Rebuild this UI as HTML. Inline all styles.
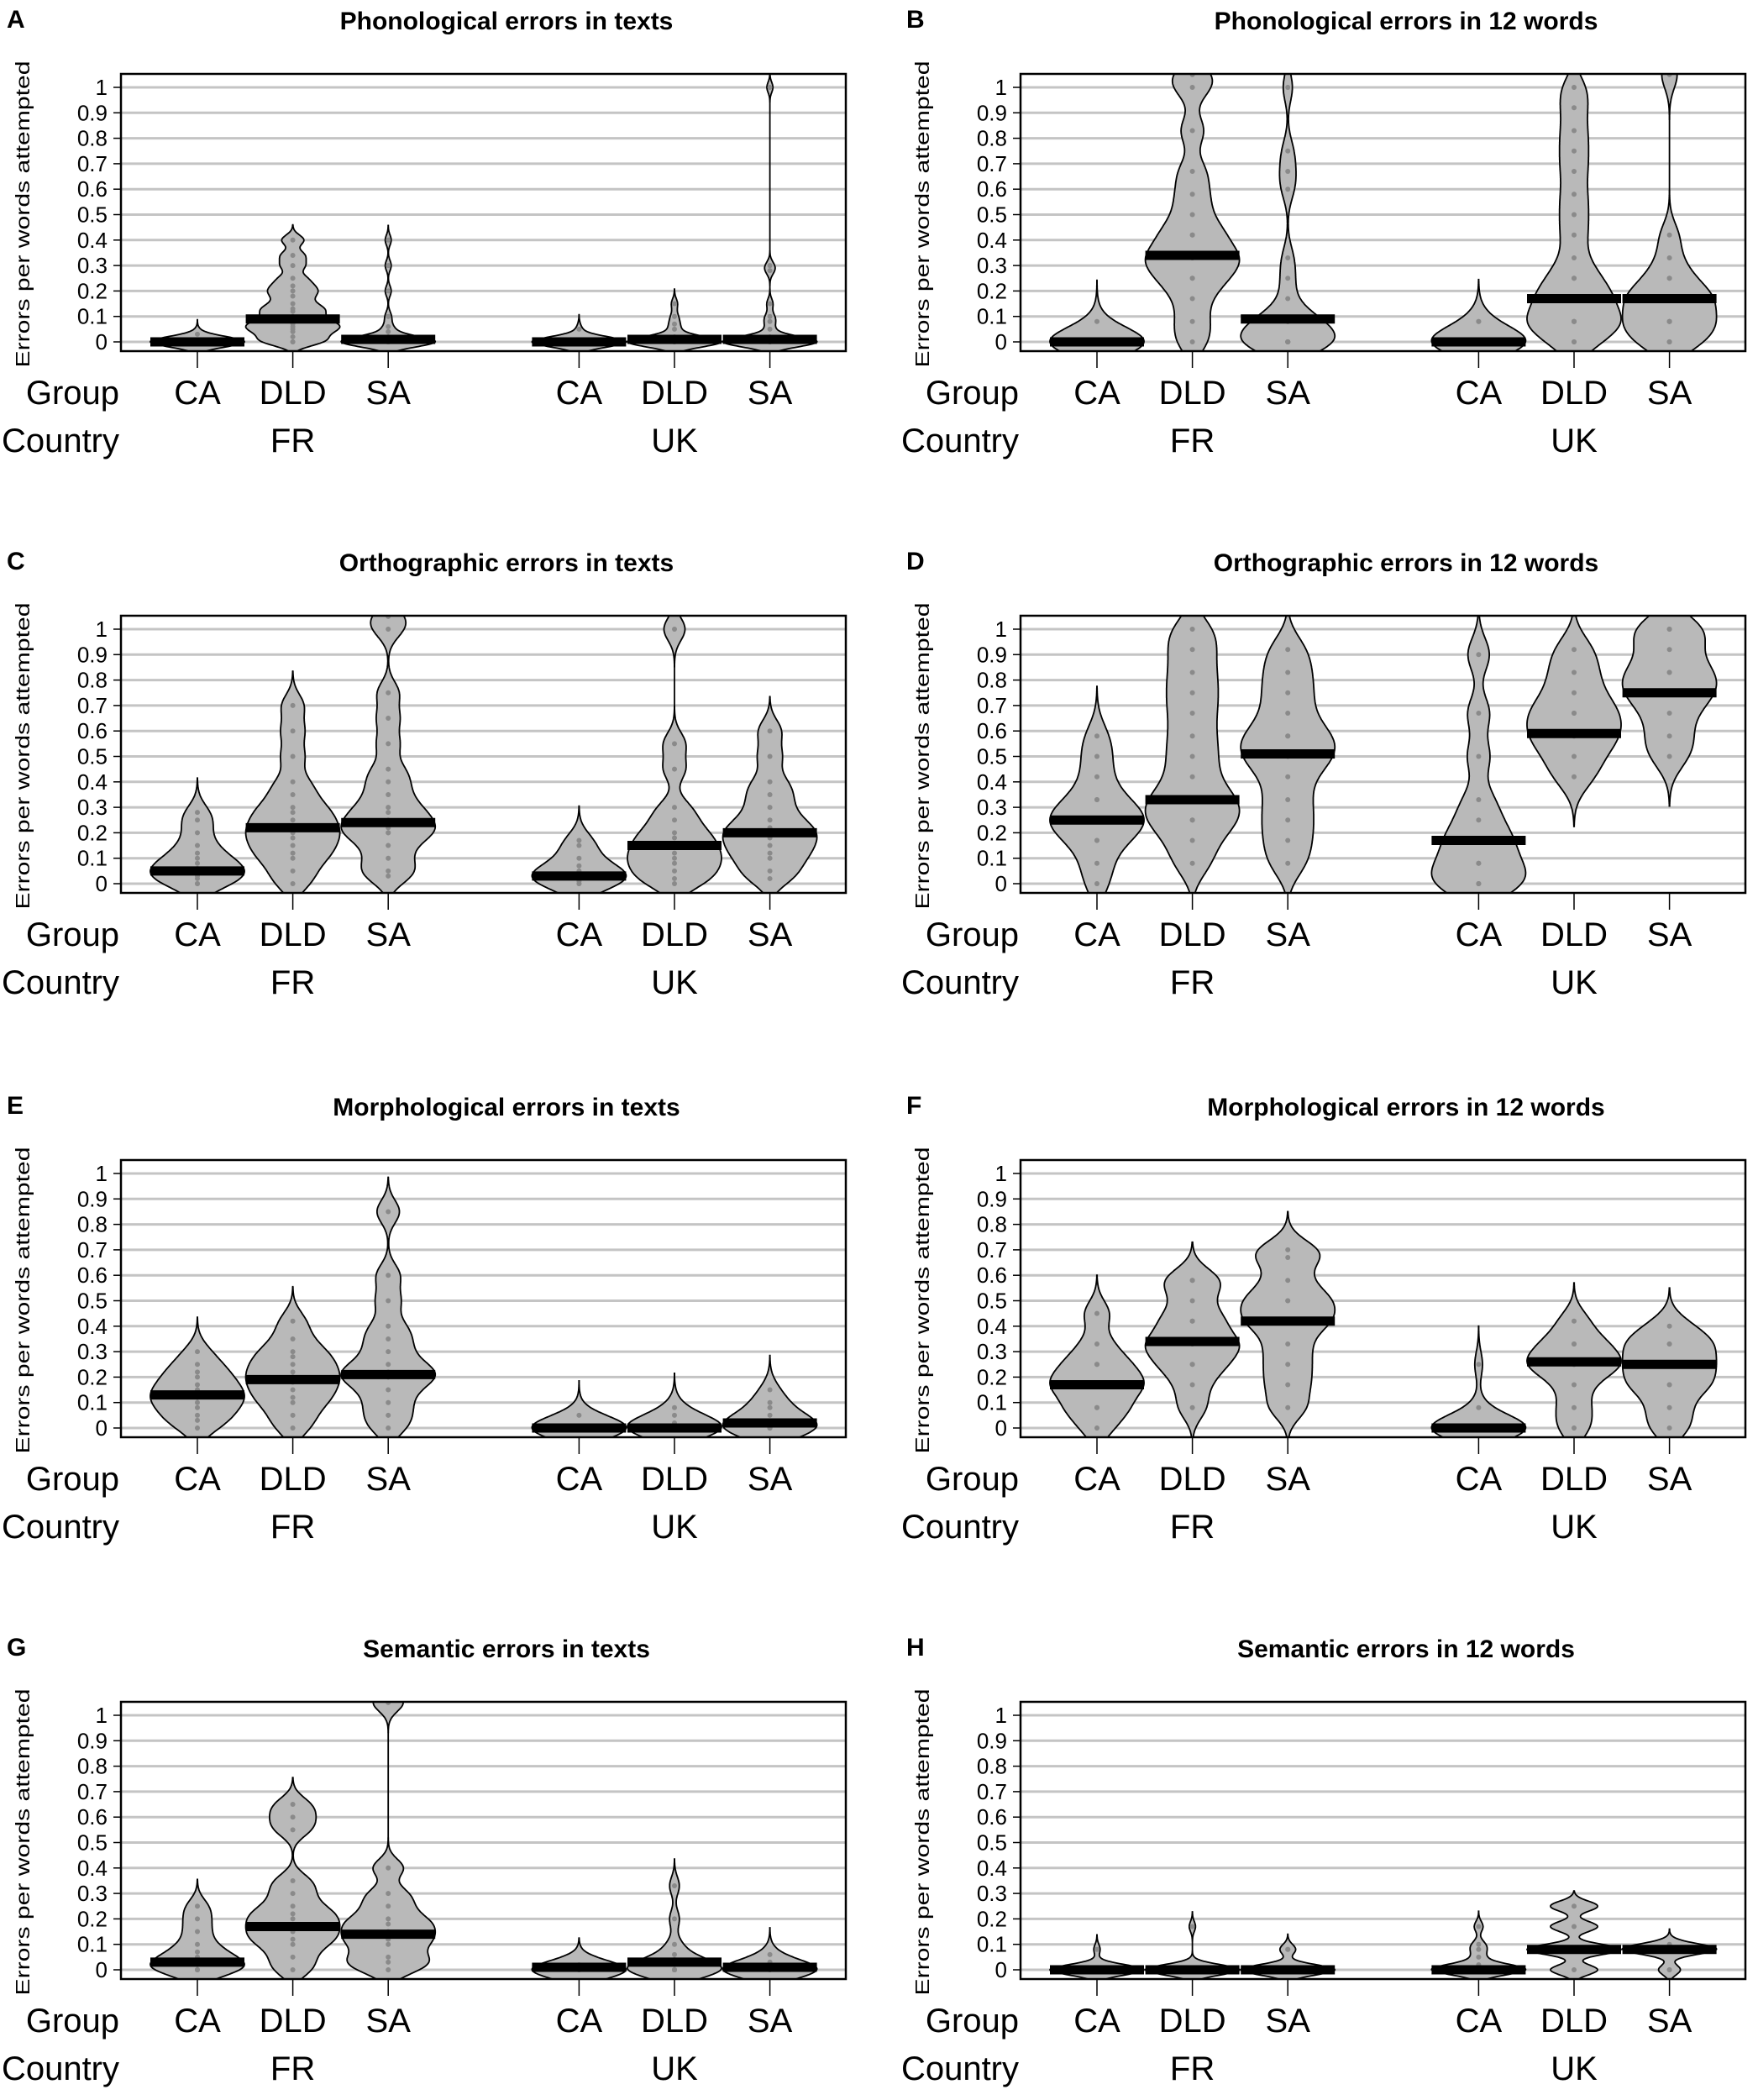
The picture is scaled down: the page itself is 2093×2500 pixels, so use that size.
<!DOCTYPE html>
<html><head><meta charset="utf-8"><style>
html,body{margin:0;padding:0;background:#fff;}
svg{display:block;}
text{font-family:"Liberation Sans",Arial,sans-serif;}
</style></head><body>
<svg id="fig" width="2093" height="2500" viewBox="0 0 2093 2500" xmlns="http://www.w3.org/2000/svg">
<rect x="0" y="0" width="2093" height="2500" fill="#fff"/>
</svg>
<script>
const groupLabels = ["CA","DLD","SA","CA","DLD","SA"];
const groupPos = [1,2,3,5,6,7];
const countryLabels = ["FR","UK"];
const countryPos = [2,6];
const yTicks = [0,0.1,0.2,0.3,0.4,0.5,0.6,0.7,0.8,0.9,1];
const yTickLabels = ["0","0.1","0.2","0.3","0.4","0.5","0.6","0.7","0.8","0.9","1"];
const letters = ["A","B","C","D","E","F","G","H"];
const titles = ["Phonological errors in texts","Phonological errors in 12 words","Orthographic errors in texts","Orthographic errors in 12 words","Morphological errors in texts","Morphological errors in 12 words","Semantic errors in texts","Semantic errors in 12 words"];
const bandwidths = [0.02,0.055,0.045,0.065,0.045,0.05,0.035,0.02];

const dataA = [
 [0,0,0,0,0,0,0,0,0,0,0,0,0,0,0,0,0,0,0,0,0.03],
 [0,0,0.02,0.04,0.05,0.06,0.07,0.08,0.1,0.12,0.13,0.15,0.18,0.2,0.22,0.25,0.3,0.34,0.4],
 [0,0,0,0,0,0,0,0,0,0,0,0,0,0,0,0.02,0.04,0.06,0.1,0.2,0.3,0.4],
 [0,0,0,0,0,0,0,0,0,0,0,0,0,0,0,0,0,0,0,0,0.05],
 [0,0,0,0,0,0,0,0,0,0,0,0,0,0,0,0.02,0.05,0.07,0.1,0.15],
 [0,0,0,0,0,0,0,0,0,0,0,0,0,0,0,0.02,0.05,0.08,0.1,0.15,0.28,0.3,1.0]];
const meansA = [0,0.09,0.01,0,0.01,0.01];
const dataB = [
 [0,0,0,0,0,0,0,0,0,0,0,0,0,0,0,0.08],
 [0,0.08,0.17,0.25,0.25,0.33,0.33,0.33,0.42,0.42,0.5,0.58,0.67,0.83,1.0,1.05],
 [0,0,0,0,0,0,0,0,0.08,0.08,0.08,0.08,0.08,0.17,0.25,0.33,0.6,0.67,0.75,1.0],
 [0,0,0,0,0,0,0,0,0,0,0,0,0.08,0.08],
 [0,0,0.08,0.08,0.08,0.08,0.17,0.17,0.17,0.25,0.25,0.33,0.42,0.5,0.58,0.67,0.75,0.83,0.92,1.0],
 [0,0,0,0.08,0.08,0.08,0.08,0.17,0.17,0.17,0.17,0.25,0.25,0.33,0.42,1.05]];
const meansB = [0,0.34,0.09,0,0.17,0.17];
const dataC = [
 [0,0,0.02,0.03,0.05,0.05,0.06,0.08,0.1,0.12,0.15,0.2,0.25,0.28],
 [0,0.05,0.1,0.12,0.15,0.18,0.2,0.22,0.25,0.28,0.3,0.35,0.4,0.5,0.6,0.7],
 [0.03,0.05,0.1,0.15,0.2,0.2,0.22,0.25,0.28,0.3,0.35,0.4,0.45,0.55,0.65,0.75,1.0,1.05],
 [0,0,0.01,0.02,0.03,0.04,0.05,0.07,0.1,0.15,0.17],
 [0,0.02,0.05,0.08,0.1,0.12,0.15,0.18,0.2,0.25,0.3,0.45,0.55,1.0],
 [0.02,0.05,0.1,0.12,0.15,0.18,0.2,0.22,0.25,0.3,0.35,0.4,0.5,0.6]];
const meansC = [0.05,0.22,0.24,0.03,0.15,0.2];
const dataD = [
 [0,0.08,0.17,0.17,0.25,0.25,0.25,0.25,0.33,0.33,0.42,0.5,0.58],
 [0.08,0.17,0.25,0.25,0.33,0.33,0.42,0.5,0.58,0.67,0.75,0.83,0.92,1.0],
 [0.08,0.17,0.25,0.33,0.42,0.5,0.5,0.58,0.58,0.67,0.75,0.83,0.92],
 [0,0,0,0.08,0.08,0.17,0.17,0.25,0.33,0.5,0.67,0.9],
 [0.42,0.5,0.58,0.58,0.67,0.67,0.75,0.83,0.92],
 [0.5,0.58,0.67,0.75,0.75,0.83,0.83,0.92,1.0,1.0]];
const meansD = [0.25,0.33,0.51,0.17,0.59,0.75];
const dataE = [
 [0,0.03,0.05,0.08,0.1,0.12,0.13,0.15,0.17,0.2,0.22,0.25,0.3],
 [0,0.05,0.1,0.12,0.15,0.18,0.2,0.22,0.25,0.28,0.3,0.35,0.42],
 [0,0.05,0.1,0.15,0.2,0.2,0.22,0.25,0.3,0.35,0.4,0.5,0.6,0.85],
 [0,0,0,0,0,0,0,0,0,0,0,0,0,0,0,0.05],
 [0,0,0,0,0,0,0,0,0,0,0.02,0.05,0.08],
 [0,0,0,0,0,0,0.02,0.05,0.08,0.1,0.15]];
const meansE = [0.13,0.19,0.21,0,0,0.02];
const dataF = [
 [0,0.08,0.08,0.17,0.17,0.17,0.25,0.25,0.33,0.45],
 [0.08,0.17,0.25,0.25,0.33,0.33,0.33,0.42,0.42,0.5,0.58,0.58],
 [0.08,0.17,0.25,0.33,0.42,0.42,0.5,0.5,0.58,0.67,0.7],
 [0,0,0,0,0,0,0,0,0,0,0,0,0.08,0.25],
 [0,0.08,0.17,0.25,0.25,0.25,0.33,0.33,0.42],
 [0,0.08,0.17,0.17,0.25,0.25,0.33,0.33,0.4]];
const meansF = [0.17,0.34,0.42,0,0.26,0.25];
const dataG = [
 [0,0,0,0.02,0.03,0.05,0.07,0.1,0.15,0.2,0.25],
 [0,0.05,0.1,0.12,0.15,0.17,0.2,0.22,0.25,0.3,0.35,0.55,0.6,0.65],
 [0,0.03,0.05,0.1,0.12,0.15,0.18,0.2,0.25,0.3,0.4,1.05],
 [0,0,0,0,0,0,0,0,0,0,0,0,0,0,0,0.02],
 [0,0,0,0,0,0,0,0,0.02,0.04,0.06,0.1,0.2,0.33],
 [0,0,0,0,0,0,0,0,0,0,0.03,0.06]];
const meansG = [0.03,0.17,0.14,0.01,0.03,0.01];
const dataH = [
 [0,0,0,0,0,0,0,0,0,0,0,0,0,0,0,0.08],
 [0,0,0,0,0,0,0,0,0,0,0,0,0,0,0,0.17],
 [0,0,0,0,0,0,0,0,0,0,0,0,0.08,0.08],
 [0,0,0,0,0,0,0,0,0,0,0.02,0.05,0.08,0.1,0.17],
 [0,0.08,0.08,0.17,0.25],
 [0,0,0.08,0.08,0.08,0.08,0.08,0.08,0.08,0.08,0.1]];
const meansH = [0,0,0,0,0.08,0.08];

const allData = [dataA,dataB,dataC,dataD,dataE,dataF,dataG,dataH];
const allMeans = [meansA,meansB,meansC,meansD,meansE,meansF,meansG,meansH];

const NS = "http://www.w3.org/2000/svg";
const svg = document.getElementById('fig');
function mk(tag, attrs, parent){ const e=document.createElementNS(NS,tag); for(const k in attrs) e.setAttribute(k,attrs[k]); (parent||svg).appendChild(e); return e; }

const colOff = [0,1071];
const rowOff = [0,645,1293,1938];
const HALF = 56;

for(let p=0;p<8;p++){
  const ox = colOff[p%2], oy = rowOff[Math.floor(p/2)];
  const xS = v => ox + 121.4 + 113.6*v;
  const yS = v => oy + 407 - v*303;
  const boxL = ox+144, boxR = ox+1007, boxT = oy+88, boxB = oy+418;
  const g = mk('g',{});
  
  

  const lt = mk('text',{x:ox+8,y:oy+33,'font-size':30,'font-weight':'bold'},g);
  lt.textContent = letters[p];
  
  

  const tl = mk('text',{x:ox+603,y:oy+35,'font-size':30,'font-weight':'bold','text-anchor':'middle'},g);
  tl.textContent = titles[p];
  
  

  const clipId = 'clip'+p;
  const cp = mk('clipPath',{id:clipId},g);
  mk('rect',{x:boxL,y:boxT,width:boxR-boxL,height:boxB-boxT},cp);

  for(let i=0;i<yTicks.length;i++){
    const gl = mk('line',{x1:boxL,x2:boxR,y1:yS(yTicks[i]),y2:yS(yTicks[i]),stroke:'#c4c4c4','stroke-width':3},g);
    
    
    const tk = mk('line',{x1:boxL-9,x2:boxL,y1:yS(yTicks[i]),y2:yS(yTicks[i]),stroke:'#000','stroke-width':1.5},g);
    
    
    const tt = mk('text',{x:ox+128,y:yS(yTicks[i])+9,'font-size':26,'text-anchor':'end'},g);
    tt.textContent = yTickLabels[i];
    
    
  }

  const bw = bandwidths[p];
  const vg = mk('g',{'clip-path':'url(#'+clipId+')'},g);
  for(let k=0;k<6;k++){
    const d = allData[p][k];
    const lo = Math.min(...d)-3*bw, hi = Math.max(...d)+3*bw;
    const ys=[], ds=[];
    for(let y=lo;y<=hi+1e-9;y+=0.002){
      let s=0; for(const v of d){ const z=(y-v)/bw; s+=Math.exp(-0.5*z*z); }
      ys.push(y); ds.push(s);
    }
    const mx = Math.max(...ds);
    const cx = xS(groupPos[k]);
    let path = '';
    for(let i=0;i<ys.length;i++) path += (i?'L':'M')+(cx+HALF*ds[i]/mx).toFixed(1)+' '+yS(ys[i]).toFixed(1);
    for(let i=ys.length-1;i>=0;i--) path += 'L'+(cx-HALF*ds[i]/mx).toFixed(1)+' '+yS(ys[i]).toFixed(1);
    path += 'Z';
    const vp = mk('path',{d:path,fill:'#b9b9b9',stroke:'#000','stroke-width':1.8},vg);
    
    
    for(const v of d){
      const pt = mk('circle',{cx:cx,cy:yS(v),r:3,fill:'#8a8a8a'},vg);
      
      
    }
    const ml = mk('line',{x1:cx-HALF,x2:cx+HALF,y1:yS(allMeans[p][k]),y2:yS(allMeans[p][k]),stroke:'#000','stroke-width':11},vg);
    
    
  }

  const box = mk('rect',{x:boxL,y:boxT,width:boxR-boxL,height:boxB-boxT,fill:'none',stroke:'#000','stroke-width':2.5},g);
  
  

  for(let k=0;k<6;k++){
    const cx = xS(groupPos[k]);
    const xt = mk('line',{x1:cx,x2:cx,y1:boxB,y2:boxB+20,stroke:'#000','stroke-width':1.5},g);
    
    
    const gl = mk('text',{x:cx,y:oy+481,'font-size':40,'text-anchor':'middle'},g);
    gl.textContent = groupLabels[k];
    
    
  }
  for(let c=0;c<2;c++){
    const cl = mk('text',{x:xS(countryPos[c]),y:oy+538,'font-size':40,'text-anchor':'middle'},g);
    cl.textContent = countryLabels[c];
    
    
  }
  const gh = mk('text',{x:ox+142,y:oy+481,'font-size':40,'text-anchor':'end'},g);
  gh.textContent = 'Group';
  
  
  const ch = mk('text',{x:ox+142,y:oy+538,'font-size':40,'text-anchor':'end'},g);
  ch.textContent = 'Country';
  
  

  const yt = mk('text',{x:0,y:0,'font-size':23,'text-anchor':'middle',textLength:365,lengthAdjust:'spacingAndGlyphs',transform:'translate('+(ox+35)+','+(oy+255)+') rotate(-90)'},g);
  yt.textContent = 'Errors per words attempted';
  
  
}
</script>
</body></html>
